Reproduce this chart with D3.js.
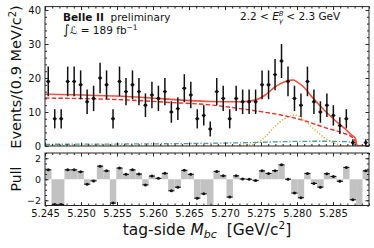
<!DOCTYPE html>
<html><head><meta charset="utf-8">
<script src="https://cdn.jsdelivr.net/npm/d3@7"></script>
<style>body{margin:0;background:#fff}svg{display:block;font-family:"DejaVu Sans",sans-serif}</style>
</head><body><svg id="c" width="374" height="248"></svg>
<script>
// ---------- data ----------
const massLo = 5.245, massHi = 5.29, binWidth = 0.0009;
const counts = [19,8,8,19,19,18,13,14,20,18,8,19,16,18,16,12,15,14,16,10,11,17,15,8,9,5,16,14,8,14,13,13,13,18,18,21,25,19,14,12,19,13,10,12,9,6,8,1,0,1];
const pulls = [0.9,-2.4,-2.4,0.9,0.9,0.72,-0.47,-0.16,1.25,0.8,
  -2.27,1.07,0.47,0.9,0.5,-0.54,0.31,0.09,0.56,-1.1,
  -0.76,0.85,0.47,-1.8,-1.39,-2.7,0.75,0.33,-1.7,0.33,
  0.03,0,-0.13,0.8,0.55,0.82,1.37,0,-1.32,-1.76,
  0.55,-0.4,-0.75,0.53,0.27,-0.2,1.13,-1.95,-2.7,0.8];
// fit curves: [mass, events]
const totalFit = [[5.245,15.2],[5.2568,14.5],[5.2679,13.1],[5.2721,13.0],[5.2742,13.5],[5.2756,15.0],[5.2769,17.3],[5.2783,18.9],[5.2790,19.3],[5.2795,19.4],[5.2801,18.7],[5.2811,17.0],[5.2820,14.6],[5.2830,12.3],[5.2839,10.3],[5.2853,7.5],[5.2867,5.0],[5.2876,3.2],[5.2881,2.3],[5.2883,0.4],[5.2885,0],[5.29,0]];
const bkgFit = [[5.245,14.1],[5.2568,13.5],[5.2624,12.8],[5.2679,12.1],[5.2721,11.0],[5.2750,10.1],[5.2783,8.9],[5.2811,7.4],[5.2839,5.4],[5.2867,3.6],[5.2876,2.7],[5.2879,2.2],[5.2883,0.3],[5.2885,0],[5.29,0]];
const sigFit = [[5.245,0],[5.2700,0],[5.2720,0.1],[5.2733,0.3],[5.2745,1.0],[5.2756,2.7],[5.2769,5.7],[5.2783,8.1],[5.2790,8.8],[5.2797,9.1],[5.2804,8.6],[5.2811,7.3],[5.2825,4.7],[5.2839,2.3],[5.2853,0.8],[5.2864,0.1],[5.2873,0],[5.29,0]];
const peakFit = [[5.245,0.5],[5.2568,0.6],[5.2679,0.8],[5.2735,1.0],[5.2783,1.3],[5.2832,1.4],[5.2867,1.3],[5.2876,1.0],[5.2882,0.3],[5.2885,0],[5.29,0]];
const xMajorTicks = [5.245,5.250,5.255,5.260,5.265,5.270,5.275,5.280,5.285];
const xTickLabels = ["5.245","5.250","5.255","5.260","5.265","5.270","5.275","5.280","5.285"];
const yMajorTicks = [0,10,20,30,40];
const pullTicks = [-2,0,2];
const pullTickLabels = ["\u22122","0","2"];

// ---------- layout ----------
const L = 45, R = 369;
const svg = d3.select("#c");
const x = d3.scaleLinear().domain([massLo, massHi]).range([L, R]);
const y = d3.scaleLinear().domain([0, 41]).range([146, 6.6]);
const yp = d3.scaleLinear().domain([-2.5, 2.5]).range([205.5, 153]);
const centers = counts.map((c,i) => massLo + (i+0.5)*binWidth);
const xMinor = d3.range(5.245, 5.2901, 0.001);
const frameCol = "#262626";

const defs = svg.append("defs");
defs.append("clipPath").attr("id","cm").append("rect").attr("x",L).attr("y",y(41)).attr("width",R-L).attr("height",y(0)-y(41));
defs.append("clipPath").attr("id","cp").append("rect").attr("x",L).attr("y",yp(2.5)).attr("width",R-L).attr("height",yp(-2.5)-yp(2.5));

function axes(g, ys, yMaj, yMin, top, bottom, withXLabels, yLabelFmt, yFont){
  const clean = s => { s.select(".domain").remove(); s.selectAll("line").attr("stroke",frameCol); };
  g.append("g").attr("transform",`translate(${L},0)`).call(d3.axisLeft(ys).tickValues(yMin).tickSize(-2).tickFormat("")).call(clean);
  g.append("g").attr("transform",`translate(${R},0)`).call(d3.axisRight(ys).tickValues(yMin).tickSize(-2).tickFormat("")).call(clean);
  g.append("g").attr("transform",`translate(${R},0)`).call(d3.axisRight(ys).tickValues(yMaj).tickSize(-3.5).tickFormat("")).call(clean);
  const la = g.append("g").attr("transform",`translate(${L},0)`).call(d3.axisLeft(ys).tickValues(yMaj).tickSize(-3.5).tickPadding(4).tickFormat((d,i)=>yLabelFmt[i])).call(clean);
  la.selectAll("text").attr("font-family","DejaVu Sans").attr("font-size",yFont).attr("fill","#111");
  g.append("g").attr("transform",`translate(0,${top})`).call(d3.axisTop(x).tickValues(xMinor).tickSize(-2).tickFormat("")).call(clean);
  g.append("g").attr("transform",`translate(0,${top})`).call(d3.axisTop(x).tickValues(xMajorTicks).tickSize(-3.5).tickFormat("")).call(clean);
  g.append("g").attr("transform",`translate(0,${bottom})`).call(d3.axisBottom(x).tickValues(xMinor).tickSize(-2).tickFormat("")).call(clean);
  const bx = g.append("g").attr("transform",`translate(0,${bottom})`).call(d3.axisBottom(x).tickValues(xMajorTicks).tickSize(-3.5).tickPadding(4).tickFormat((d,i)=> withXLabels ? xTickLabels[i] : "")).call(clean);
  bx.selectAll("text").attr("font-family","DejaVu Sans").attr("font-size",10).attr("fill","#111");
  g.append("rect").attr("x",L).attr("y",top).attr("width",R-L).attr("height",bottom-top).attr("fill","none").attr("stroke",frameCol).attr("stroke-width",1);
}

// ---------- main panel ----------
const gm = svg.append("g");
const curves = gm.append("g").attr("clip-path","url(#cm)");
const line = d3.line().x(d=>x(d[0])).y(d=>y(d[1])).curve(d3.curveMonotoneX);
curves.append("path").datum(sigFit).attr("d",line).attr("fill","none").attr("stroke","#f5a034").attr("stroke-width",1.3).attr("stroke-dasharray","1.3,1.7");
curves.append("path").datum(peakFit).attr("d",line).attr("fill","none").attr("stroke","#4f9c9c").attr("stroke-width",1.3).attr("stroke-dasharray","5,1.8,1.3,1.8");
curves.append("path").datum(bkgFit).attr("d",line).attr("fill","none").attr("stroke","#e0302c").attr("stroke-width",1.4).attr("stroke-dasharray","4.5,2.2");
curves.append("path").datum(totalFit).attr("d",line).attr("fill","none").attr("stroke","#f0503e").attr("stroke-width",1.6);

const pts = gm.append("g");
const nonzero = counts.map((c,i)=>({c, m:centers[i]})).filter(d=>d.c>0);
pts.selectAll("line.ev").data(nonzero).join("line").attr("class","ev")
  .attr("x1",d=>x(d.m)).attr("x2",d=>x(d.m)).attr("y1",d=>y(d.c+Math.sqrt(d.c))).attr("y2",d=>y(Math.max(0,d.c-Math.sqrt(d.c))))
  .attr("stroke","#111").attr("stroke-width",1.5);
pts.selectAll("line.eh").data(nonzero).join("line").attr("class","eh")
  .attr("x1",d=>x(d.m)-2).attr("x2",d=>x(d.m)+2).attr("y1",d=>y(d.c)).attr("y2",d=>y(d.c))
  .attr("stroke","#111").attr("stroke-width",1);
pts.selectAll("circle").data(nonzero).join("circle").attr("cx",d=>x(d.m)).attr("cy",d=>y(d.c)).attr("r",1.7).attr("fill","#111");

axes(gm, y, yMajorTicks, d3.range(0,41,2), y(41), y(0), false, yMajorTicks.map(String), 10);

// ---------- pull panel ----------
const gp = svg.append("g");
const bars = gp.append("g").attr("clip-path","url(#cp)");
bars.selectAll("rect").data(pulls.map((p,i)=>({p, m:centers[i]}))).join("rect")
  .attr("x",d=>x(d.m-binWidth/2)).attr("width",x(massLo+binWidth)-x(massLo))
  .attr("y",d=>yp(Math.max(0,d.p))).attr("height",d=>Math.abs(yp(d.p)-yp(0)))
  .attr("fill","#c2c2c2");
const pin = pulls.map((p,i)=>({p, m:centers[i]})).filter(d=>Math.abs(d.p)<=2.45);
gp.selectAll("line.ph").data(pin).join("line").attr("class","ph")
  .attr("x1",d=>x(d.m)-3).attr("x2",d=>x(d.m)+3).attr("y1",d=>yp(d.p)).attr("y2",d=>yp(d.p)).attr("stroke","#111").attr("stroke-width",1.1);
gp.selectAll("circle").data(pin).join("circle").attr("cx",d=>x(d.m)).attr("cy",d=>yp(d.p)).attr("r",1.5).attr("fill","#111");
axes(gp, yp, pullTicks, d3.range(-2.5,2.51,0.5), yp(2.5), yp(-2.5), true, pullTickLabels, 9.5);

// ---------- labels ----------
const yl = svg.append("text").attr("transform","translate(20.5,77) rotate(-90)").attr("text-anchor","middle").attr("font-size",14.5).attr("fill","#111");
yl.append("tspan").text("Events/(0.9 MeV/c");
yl.append("tspan").text("2").attr("font-size",10).attr("dy",-5);
yl.append("tspan").text(")").attr("dy",5);
svg.append("text").attr("transform","translate(21,179) rotate(-90)").attr("text-anchor","middle").attr("font-size",14).attr("fill","#111").text("Pull");
const xl = svg.append("text").attr("x",207).attr("y",235).attr("text-anchor","middle").attr("font-size",15.5).attr("fill","#111");
xl.append("tspan").text("tag-side ");
xl.append("tspan").text("M").attr("font-style","italic");
xl.append("tspan").text("bc").attr("font-style","italic").attr("font-size",11).attr("dy",3);
xl.append("tspan").text("\u00a0 [GeV/c").attr("dy",-3);
xl.append("tspan").text("2").attr("font-size",10.5).attr("dy",-6);
xl.append("tspan").text("]").attr("dy",6);

const t1 = svg.append("text").attr("x",63).attr("y",21).attr("font-size",10.5).attr("fill","#111");
t1.append("tspan").text("Belle II").attr("font-weight","bold");
t1.append("tspan").text("  preliminary").attr("xml:space","preserve");
const t2 = svg.append("text").attr("x",63).attr("y",34).attr("font-size",10.5).attr("fill","#111");
t2.append("tspan").text("\u222B").attr("font-size",13);
t2.append("tspan").text("\u2112").attr("font-style","italic");
t2.append("tspan").text(" = 189 fb");
t2.append("tspan").text("\u22121").attr("font-size",7.5).attr("dy",-4.5);
const t3 = svg.append("text").attr("x",240).attr("y",20).attr("font-size",10.5).attr("fill","#111");
t3.append("tspan").text("2.2 < ");
t3.append("tspan").text("E").attr("font-style","italic");
t3.append("tspan").text("B").attr("font-size",7).attr("font-style","italic").attr("dy",-4.5);
t3.append("tspan").text("\u03B3").attr("font-size",7).attr("font-style","italic").attr("dx",-4.8).attr("dy",7.5);
t3.append("tspan").text(" < 2.3 GeV").attr("dy",-3);
</script></body></html>
